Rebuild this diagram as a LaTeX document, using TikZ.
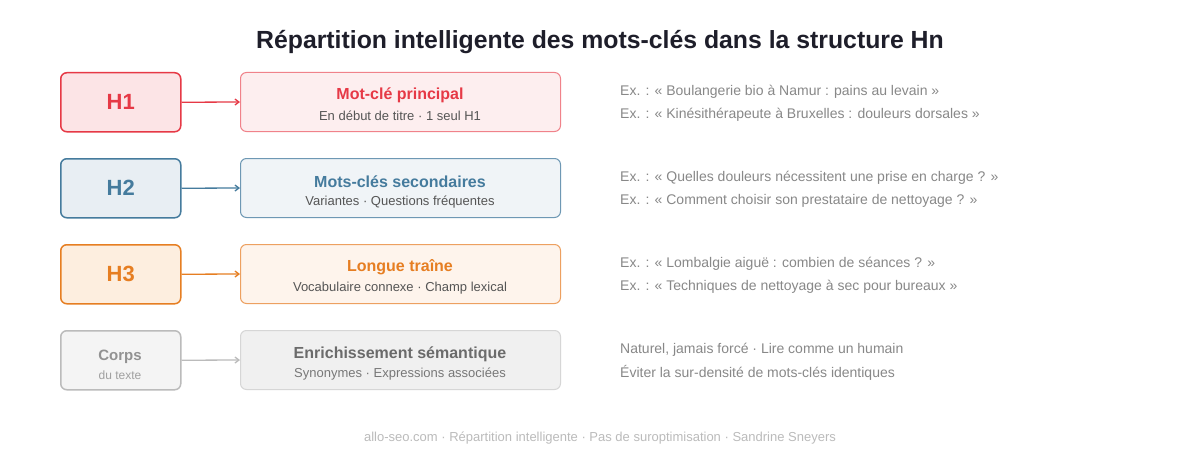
\documentclass[tikz,border=0pt]{standalone}
\usepackage{fontspec}
\setmainfont{Liberation Sans}
\definecolor{cred}{HTML}{E63946}
\definecolor{credl}{HTML}{F0828A}
\definecolor{credf}{HTML}{FCE4E6}
\definecolor{credg}{HTML}{FDEEEF}
\definecolor{cblue}{HTML}{457B9D}
\definecolor{cbluel}{HTML}{6E98B4}
\definecolor{cbluef}{HTML}{E8EEF3}
\definecolor{cblueg}{HTML}{F0F4F7}
\definecolor{corg}{HTML}{E67E22}
\definecolor{corgl}{HTML}{EDA060}
\definecolor{corgf}{HTML}{FDEEDF}
\definecolor{corgg}{HTML}{FEF4EC}
\definecolor{cgray}{HTML}{777777}
\definecolor{cgrayl}{HTML}{BBBBBB}
\definecolor{cgrayf}{HTML}{F4F4F4}
\definecolor{cgrayg}{HTML}{F0F0F0}
\definecolor{ctext}{HTML}{555555}
\definecolor{cex}{HTML}{888888}
\definecolor{ctitle}{HTML}{1E1E2A}
\usetikzlibrary{arrows.meta}
\begin{document}
\begin{tikzpicture}[x=1pt,y=1pt,
  lbox/.style={draw,line width=1.5pt,rounded corners=6pt,minimum width=120pt,minimum height=59pt,inner sep=0pt,anchor=north west},
  rbox/.style={draw,line width=1pt,rounded corners=6pt,minimum width=320pt,minimum height=59pt,inner sep=0pt,anchor=north west},
  conn/.style={line width=1.3pt,-{Straight Barb[length=4pt,width=6pt]}},
  ex/.style={anchor=west,inner sep=0pt,text=cex,font=\fontsize{14}{16}\selectfont}]
\useasboundingbox (0,0) rectangle (1200,-460);
\fill[white] (0,0) rectangle (1200,-460);
\node[text=ctitle,font=\fontsize{24.8}{28}\selectfont\bfseries] (title) at (600,-42) {Répartition intelligente des mots-clés dans la structure Hn};
% Row 1
\node[lbox,draw=cred,fill=credf,text=cred,font=\fontsize{22}{26}\selectfont\bfseries] (l1) at (60,-72) {H1};
\node[rbox,draw=credl,fill=credg] (r1) at (240,-72) {};
\node[text=cred,font=\fontsize{16}{19}\selectfont\bfseries] (r1a) at (400,-95.5) {Mot-clé principal};
\node[text=ctext,font=\fontsize{13}{15}\selectfont] (r1b) at (400,-116) {En début de titre · 1 seul H1};
\draw[conn,cred] (l1.east) -- (r1.west);
\node[ex] (e1a) at (620,-92) {Ex. : « Boulangerie bio à Namur : pains au levain »};
\node[ex] (e1b) at (620,-115) {Ex. : « Kinésithérapeute à Bruxelles : douleurs dorsales »};
% Row 2
\node[lbox,draw=cblue,fill=cbluef,text=cblue,font=\fontsize{22}{26}\selectfont\bfseries] (l2) at (60,-158) {H2};
\node[rbox,draw=cbluel,fill=cblueg] (r2) at (240,-158) {};
\node[text=cblue,font=\fontsize{16}{19}\selectfont\bfseries] (r2a) at (400,-181.5) {Mots-clés secondaires};
\node[text=ctext,font=\fontsize{13}{15}\selectfont] (r2b) at (400,-202) {Variantes · Questions fréquentes};
\draw[conn,cblue] (l2.east) -- (r2.west);
\node[ex] (e2a) at (620,-178) {Ex. : « Quelles douleurs nécessitent une prise en charge ? »};
\node[ex] (e2b) at (620,-201) {Ex. : « Comment choisir son prestataire de nettoyage ? »};
% Row 3
\node[lbox,draw=corg,fill=corgf,text=corg,font=\fontsize{22}{26}\selectfont\bfseries] (l3) at (60,-244) {H3};
\node[rbox,draw=corgl,fill=corgg] (r3) at (240,-244) {};
\node[text=corg,font=\fontsize{16}{19}\selectfont\bfseries] (r3a) at (400,-267.5) {Longue traîne};
\node[text=ctext,font=\fontsize{13}{15}\selectfont] (r3b) at (400,-288) {Vocabulaire connexe · Champ lexical};
\draw[conn,corg] (l3.east) -- (r3.west);
\node[ex] (e3a) at (620,-264) {Ex. : « Lombalgie aiguë : combien de séances ? »};
\node[ex] (e3b) at (620,-287) {Ex. : « Techniques de nettoyage à sec pour bureaux »};
% Row 4
\node[lbox,draw=cgrayl,fill=cgrayf] (l4) at (60,-330) {};
\node[text=cgray!80,font=\fontsize{15}{18}\selectfont\bfseries] (l4a) at (120,-356.5) {Corps};
\node[text=cex!80,font=\fontsize{12}{14}\selectfont] (l4b) at (120,-375) {du texte};
\node[rbox,draw=cgrayl!60,fill=cgrayg] (r4) at (240,-330) {};
\node[text=cgray!90!black,font=\fontsize{16}{19}\selectfont\bfseries] (r4a) at (400,-354) {Enrichissement sémantique};
\node[text=cgray,font=\fontsize{13}{15}\selectfont] (r4b) at (400,-374) {Synonymes · Expressions associées};
\draw[conn,cgrayl] (l4.east) -- (r4.west);
\node[ex] (e4a) at (620,-350) {Naturel, jamais forcé · Lire comme un humain};
\node[ex] (e4b) at (620,-373) {Éviter la sur-densité de mots-clés identiques};
% Footer
\node[text=cgrayl,font=\fontsize{13}{15}\selectfont] (foot) at (600,-438) {allo-seo.com · Répartition intelligente · Pas de suroptimisation · Sandrine Sneyers};
\end{tikzpicture}
\end{document}
